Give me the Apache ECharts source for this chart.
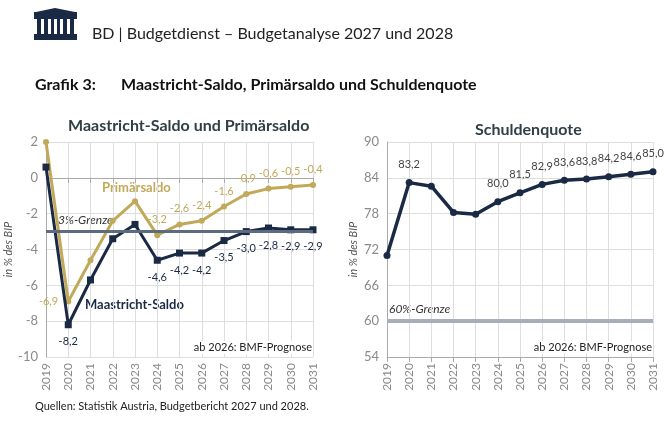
<!DOCTYPE html>
<html>
<head>
<meta charset="utf-8">
<script src="https://cdn.jsdelivr.net/npm/echarts@6/dist/echarts.min.js"></script>
<style>
  html, body { margin: 0; padding: 0; background: #fff; }
  #chart { width: 672px; height: 422px; }
</style>
</head>
<body>
<div id="chart"></div>
<script>
const years = ['2019', '2020', '2021', '2022', '2023', '2024', '2025', '2026', '2027', '2028', '2029', '2030', '2031']
const maastricht = [0.6, -8.2, -5.7, -3.4, -2.6, -4.6, -4.2, -4.2, -3.5, -3.0, -2.8, -2.9, -2.9]
const primaer = [2.0, -6.9, -4.6, -2.4, -1.3, -3.2, -2.6, -2.4, -1.6, -0.9, -0.6, -0.5, -0.4]
const schulden = [71.0, 83.2, 82.6, 78.2, 77.9, 80.0, 81.5, 82.9, 83.6, 83.8, 84.2, 84.6, 85.0]
// which points carry a value label
const maastrichtLabels = [0, 1, 0, 0, 0, 1, 1, 1, 1, 1, 1, 1, 1]
const primaerLabels = [0, 1, 0, 0, 0, 1, 1, 1, 1, 1, 1, 1, 1]
const schuldenLabels = [0, 1, 0, 0, 0, 1, 1, 1, 1, 1, 1, 1, 1]

const navy = '#1b2a44'
const gold = '#c2a95a'
const grey = '#8a8a8a'
const font = 'Lato'

const comma = v => String(v.toFixed(1)).replace('.', ',')

function points(values, flags, pos, color) {
  return values.map((v, i) => ({
    value: v,
    label: flags[i] ? { show: true, position: pos, color: color } : { show: false }
  }))
}

const primaerData = points(primaer, primaerLabels, 'top', gold)
primaerData[1].label.position = 'left'

const chart = echarts.init(document.getElementById('chart'))

const xAxisBase = {
  type: 'category',
  data: years,
  boundaryGap: false,
  axisLine: { lineStyle: { color: '#aaaaaa' } },
  axisTick: { show: true, alignWithLabel: true, lineStyle: { color: '#aaaaaa' } },
  axisLabel: { rotate: 90, color: grey, fontFamily: font, fontSize: 12, margin: 6 },
  splitLine: { show: true, lineStyle: { color: '#dedede' } }
}

const yAxisBase = {
  type: 'value',
  name: 'in % des BIP',
  nameLocation: 'middle',
  nameTextStyle: { fontStyle: 'italic', color: '#555', fontFamily: font, fontSize: 11 },
  axisLine: { show: true, lineStyle: { color: '#aaaaaa' } },
  axisTick: { show: false },
  axisLabel: { color: grey, fontFamily: font, fontSize: 13 },
  splitLine: { lineStyle: { color: '#dedede' } }
}

chart.setOption({
  animation: false,
  textStyle: { fontFamily: font },
  title: [{
    text: 'Maastricht-Saldo und Primärsaldo',
    left: 63,
    top: 113,
    textStyle: { fontSize: 16, fontWeight: 'bold', color: '#2f3f45', fontFamily: font }
  }, {
    text: 'Schuldenquote',
    left: 470,
    top: 117,
    textStyle: { fontSize: 16, fontWeight: 'bold', color: '#2f3f45', fontFamily: font }
  }],
  grid: [
    { left: 46, right: 359, top: 142, height: 215 },
    { left: 387, right: 19, top: 142, height: 215 }
  ],
  xAxis: [
    Object.assign({ gridIndex: 0 }, xAxisBase),
    Object.assign({ gridIndex: 1 }, xAxisBase)
  ],
  yAxis: [
    Object.assign({}, yAxisBase, { gridIndex: 0, min: -10, max: 2, interval: 2, nameGap: 24 }),
    Object.assign({}, yAxisBase, { gridIndex: 1, min: 54, max: 90, interval: 6, nameGap: 28 })
  ],
  series: [{
    name: 'Primärsaldo',
    type: 'line',
    xAxisIndex: 0,
    yAxisIndex: 0,
    data: primaerData,
    symbol: 'circle',
    symbolSize: 6,
    lineStyle: { color: gold, width: 3 },
    itemStyle: { color: gold },
    label: { fontSize: 11, fontFamily: font, formatter: p => comma(p.value), distance: 7 },
    markLine: {
      silent: true,
      symbol: 'none',
      label: { show: false },
      lineStyle: { color: '#5d6b80', width: 3, type: 'solid' },
      data: [{ yAxis: -3 }]
    },
    z: 3
  }, {
    name: 'Maastricht-Saldo',
    type: 'line',
    xAxisIndex: 0,
    yAxisIndex: 0,
    data: points(maastricht, maastrichtLabels, 'bottom', navy),
    symbol: 'rect',
    symbolSize: 7,
    lineStyle: { color: navy, width: 3 },
    itemStyle: { color: navy },
    label: { fontSize: 11, fontFamily: font, formatter: p => comma(p.value), distance: 8 },
    z: 4
  }, {
    name: 'Schuldenquote',
    type: 'line',
    xAxisIndex: 1,
    yAxisIndex: 1,
    data: points(schulden, schuldenLabels, 'top', '#444'),
    symbol: 'circle',
    symbolSize: 7,
    lineStyle: { color: navy, width: 3.5 },
    itemStyle: { color: navy },
    label: { fontSize: 11, fontFamily: font, formatter: p => comma(p.value), distance: 9 },
    markLine: {
      silent: true,
      symbol: 'none',
      label: { show: false },
      lineStyle: { color: '#a7aebb', width: 4, type: 'solid' },
      data: [{ yAxis: 60 }]
    },
    z: 4
  }],
  graphic: [
    // logo
    { type: 'rect', shape: { x: 34, y: 12, width: 43, height: 7 }, style: { fill: navy } },
    { type: 'polygon', shape: { points: [[36, 12], [55, 8], [75, 12]] }, style: { fill: navy } },
    { type: 'rect', shape: { x: 34, y: 34, width: 43, height: 6 }, style: { fill: navy } },
    { type: 'rect', shape: { x: 37, y: 19, width: 4, height: 15 }, style: { fill: navy } },
    { type: 'rect', shape: { x: 44, y: 19, width: 4, height: 15 }, style: { fill: navy } },
    { type: 'rect', shape: { x: 51, y: 19, width: 3, height: 15 }, style: { fill: navy } },
    { type: 'rect', shape: { x: 57, y: 19, width: 3, height: 15 }, style: { fill: navy } },
    { type: 'rect', shape: { x: 63, y: 19, width: 4, height: 15 }, style: { fill: navy } },
    { type: 'rect', shape: { x: 70, y: 19, width: 4, height: 15 }, style: { fill: navy } },
    { type: 'text', left: 92, top: 26, style: { text: 'BD | Budgetdienst – Budgetanalyse 2027 und 2028', fontSize: 16, fontFamily: font, fill: '#222' } },
    { type: 'text', left: 35, top: 77, style: { text: 'Grafik 3:', fontSize: 16, fontWeight: 'bold', fontFamily: font, fill: '#111' } },
    { type: 'text', left: 121, top: 77, style: { text: 'Maastricht-Saldo, Primärsaldo und Schuldenquote', fontSize: 16, fontWeight: 'bold', fontFamily: font, fill: '#111' } },
    // annotations
    { type: 'text', left: 102, top: 181, style: { text: 'Primärsaldo', fontSize: 13, fontWeight: 'bold', fontFamily: font, fill: gold } },
    { type: 'text', left: 85, top: 298, style: { text: 'Maastricht-Saldo', fontSize: 13, fontWeight: 'bold', fontFamily: font, fill: navy } },
    { type: 'text', left: 58, top: 214, style: { text: '3%-Grenze', fontSize: 12, fontStyle: 'italic', fontFamily: font, fill: '#333' } },
    { type: 'text', left: 389, top: 303, style: { text: '60%-Grenze', fontSize: 12, fontStyle: 'italic', fontFamily: font, fill: '#333' } },
    { type: 'text', right: 359, top: 341, z: 100, style: { text: 'ab 2026: BMF-Prognose', fontSize: 11, fontFamily: font, fill: '#222', backgroundColor: '#fff', padding: [1, 1] } },
    { type: 'text', right: 19, top: 341, z: 100, style: { text: 'ab 2026: BMF-Prognose', fontSize: 11, fontFamily: font, fill: '#222', backgroundColor: '#fff', padding: [1, 1] } },
    { type: 'text', left: 35, top: 401, style: { text: 'Quellen: Statistik Austria, Budgetbericht 2027 und 2028.', fontSize: 11, fontFamily: font, fill: '#222' } }
  ]
})
</script>
</body>
</html>
